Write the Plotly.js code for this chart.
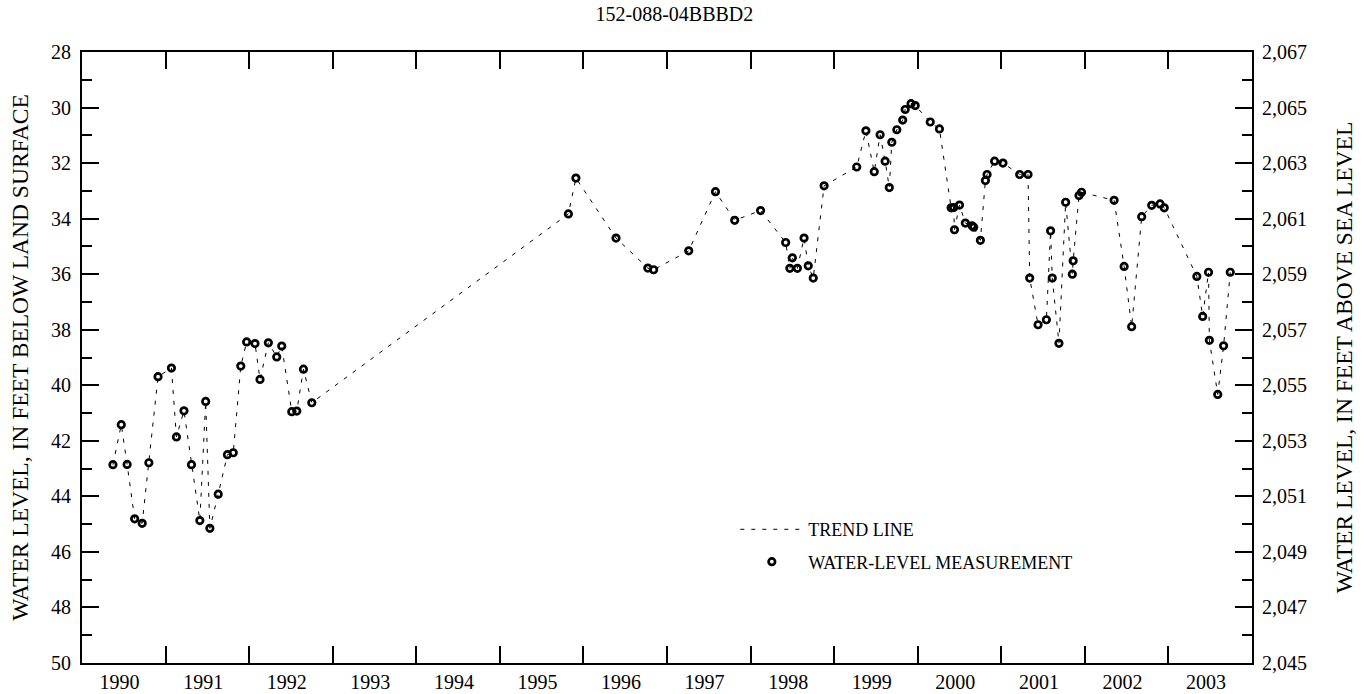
<!DOCTYPE html>
<html>
<head>
<meta charset="utf-8">
<script src="https://cdn.plot.ly/plotly-3.0.1.min.js"></script>
<style>
  html, body { margin: 0; padding: 0; background: #fff; }
  #chart { width: 1369px; height: 694px; }
</style>
</head>
<body>
<div id="chart"></div>
<script>
// ---- data ----
const chartTitle = '152-088-04BBBD2';
const landSurfaceAltitude = 2095; // right axis = altitude - depth

// measurement dates (decimal years)
const measureDates = [
  1990.37, 1990.47, 1990.54, 1990.63, 1990.72, 1990.80, 1990.91,
  1991.07, 1991.13, 1991.22, 1991.31, 1991.41, 1991.48, 1991.53, 1991.63, 1991.74, 1991.81, 1991.90, 1991.97,
  1992.07, 1992.13, 1992.23, 1992.33, 1992.39, 1992.51, 1992.57, 1992.65, 1992.75,
  1995.82, 1995.91,
  1996.39, 1996.77, 1996.84,
  1997.26, 1997.58, 1997.81,
  1998.12, 1998.42, 1998.47, 1998.50, 1998.56, 1998.64, 1998.69, 1998.75, 1998.88,
  1999.27, 1999.38, 1999.48, 1999.55, 1999.61, 1999.66, 1999.69, 1999.75, 1999.82, 1999.85, 1999.92, 1999.97,
  2000.15, 2000.26, 2000.40, 2000.43, 2000.44, 2000.50, 2000.57, 2000.65, 2000.67, 2000.75, 2000.81, 2000.83, 2000.92,
  2001.02, 2001.22, 2001.32, 2001.34, 2001.44, 2001.54, 2001.59, 2001.61, 2001.69, 2001.77, 2001.85, 2001.86, 2001.93, 2001.96,
  2002.35, 2002.47, 2002.56, 2002.68, 2002.80, 2002.90, 2002.95,
  2003.34, 2003.41, 2003.48, 2003.49, 2003.59, 2003.66, 2003.74
];

// water level, feet below land surface
const depthBelowSurface = [
  42.86, 41.42, 42.85, 44.81, 44.97, 42.79, 39.69,
  39.38, 41.86, 40.92, 42.86, 44.87, 40.58, 45.15, 43.92, 42.50, 42.43, 39.31, 38.44,
  38.50, 39.79, 38.47, 38.98, 38.59, 40.95, 40.93, 39.42, 40.63,
  33.83, 32.54,
  34.70, 35.78, 35.84,
  35.16, 33.03, 34.06,
  33.71, 34.86, 35.79, 35.41, 35.79, 34.70, 35.70, 36.14, 32.82,
  32.14, 30.84, 32.31, 30.98, 31.93, 32.88, 31.25, 30.80, 30.45, 30.07, 29.86, 29.93,
  30.52, 30.77, 33.61, 33.60, 34.40, 33.51, 34.16, 34.26, 34.31, 34.78, 32.63, 32.41, 31.93,
  32.00, 32.41, 32.41, 36.14, 37.82, 37.64, 34.44, 36.14, 38.49, 33.41, 36.00, 35.52, 33.17, 33.05,
  33.34, 35.72, 37.89, 33.93, 33.52, 33.47, 33.61,
  36.08, 37.52, 35.93, 38.38, 40.33, 38.58, 35.93
];

const yearLabels = ['1990','1991','1992','1993','1994','1995','1996','1997','1998','1999','2000','2001','2002','2003'];
const yearStarts = [1990,1991,1992,1993,1994,1995,1996,1997,1998,1999,2000,2001,2002,2003,2004];

const legendTrend = 'TREND LINE';
const legendMeasure = 'WATER-LEVEL MEASUREMENT';
const leftAxisTitle = 'WATER LEVEL, IN FEET BELOW LAND SURFACE';
const rightAxisTitle = 'WATER LEVEL, IN FEET ABOVE SEA LEVEL';

// ---- build ----
const FONT = '"Liberation Serif", "Times New Roman", Times, serif';
const labelPositions = yearLabels.map((_, i) => yearStarts[i] + 0.45);
const boundaryTicks = yearStarts.slice(1, -1);
const altitude = depthBelowSurface.map(d => landSurfaceAltitude - d);

const traces = [
  {
    x: measureDates, y: depthBelowSurface,
    type: 'scatter', mode: 'lines',
    name: legendTrend,
    line: { color: '#000', width: 1, dash: '4px,7px' },
    hoverinfo: 'skip',
    legendgroup: 'a'
  },
  {
    x: measureDates, y: depthBelowSurface,
    type: 'scatter', mode: 'markers',
    name: legendMeasure,
    marker: { symbol: 'circle-open', size: 6.5, color: '#000', line: { width: 2.7, color: '#000' } },
    legendgroup: 'b'
  },
  {
    // same measurements expressed as altitude, to carry the right-hand axis (invisible)
    x: measureDates, y: altitude, yaxis: 'y2',
    type: 'scatter', mode: 'markers',
    marker: { opacity: 0, size: 1 },
    showlegend: false, hoverinfo: 'skip'
  }
];

const axisCommon = {
  showgrid: false, zeroline: false,
  showline: true, linecolor: '#000', linewidth: 2,
  tickcolor: '#000', tickwidth: 2,
  tickfont: { family: FONT, size: 20, color: '#000' }
};

const layout = {
  width: 1369, height: 694,
  margin: { l: 82, r: 117, t: 52, b: 31, pad: 0 },
  paper_bgcolor: '#fff', plot_bgcolor: '#fff',
  font: { family: FONT, size: 20, color: '#000' },
  title: {
    text: chartTitle, x: 0.4926, xanchor: 'center',
    y: 1 - 14 / 694, yref: 'container', yanchor: 'middle',
    font: { family: FONT, size: 20, color: '#000' }
  },
  showlegend: true,
  legend: {
    x: 0.5584, xanchor: 'left', y: 0.2486, yanchor: 'top',
    bgcolor: 'rgba(0,0,0,0)', borderwidth: 0,
    font: { family: FONT, size: 18, color: '#000' },
    traceorder: 'grouped', tracegroupgap: 6, itemwidth: 63
  },
  xaxis: Object.assign({}, axisCommon, {
    range: [1990, 2004],
    tickmode: 'array', tickvals: labelPositions, ticktext: yearLabels,
    ticks: 'inside', ticklen: 0,
    mirror: 'ticks',
    minor: { tickmode: 'array', tickvals: boundaryTicks, ticks: 'inside', ticklen: 17, tickwidth: 2, tickcolor: '#000', showgrid: false }
  }),
  yaxis: Object.assign({}, axisCommon, {
    range: [50, 28],
    tickmode: 'linear', tick0: 28, dtick: 2,
    ticks: 'inside', ticklen: 17, ticklabelstandoff: 5,
    minor: { dtick: 1, ticks: 'inside', ticklen: 10, tickwidth: 2, tickcolor: '#000', showgrid: false },
    title: { text: leftAxisTitle, font: { family: FONT, size: 23.5, color: '#000' }, standoff: 16 }
  }),
  yaxis2: Object.assign({}, axisCommon, {
    overlaying: 'y', side: 'right', anchor: 'x',
    range: [landSurfaceAltitude - 50, landSurfaceAltitude - 28],
    tickmode: 'linear', tick0: 2045, dtick: 2, tickformat: ',d',
    ticks: 'inside', ticklen: 17, ticklabelstandoff: 4,
    minor: { dtick: 1, ticks: 'inside', ticklen: 10, tickwidth: 2, tickcolor: '#000', showgrid: false },
    title: { text: rightAxisTitle, font: { family: FONT, size: 23.5, color: '#000' }, standoff: 30 }
  })
};

Plotly.newPlot('chart', traces, layout, { displayModeBar: false, staticPlot: true });
</script>
</body>
</html>
